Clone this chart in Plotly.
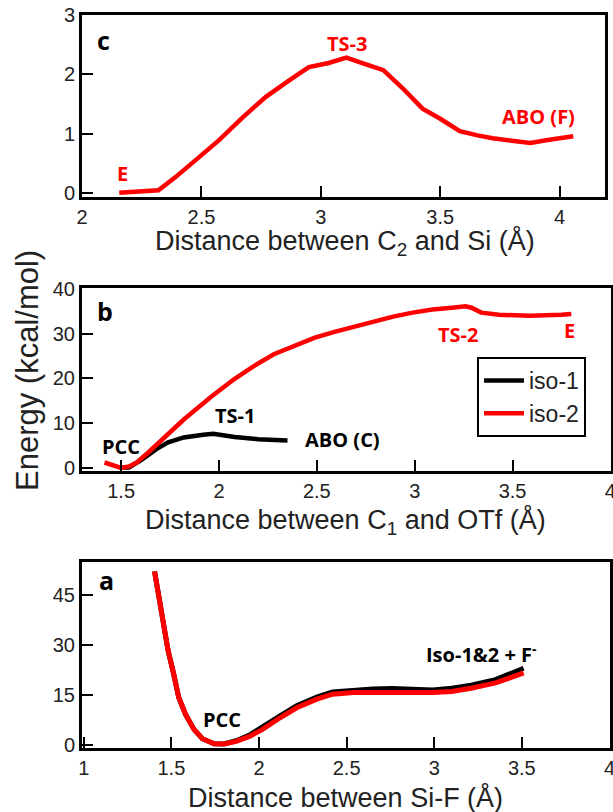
import plotly.graph_objects as go

# ---- Panel c (C2-Si scan, iso-2) ----
c_x = [2.156, 2.32, 2.393, 2.49, 2.574, 2.672, 2.77, 2.869, 2.95, 3.033, 3.107, 3.18, 3.262,
       3.344, 3.426, 3.50, 3.582, 3.656, 3.72, 3.80, 3.877, 3.95, 4.057]
c_y = [0.0, 0.045, 0.27, 0.61, 0.89, 1.27, 1.62, 1.90, 2.12, 2.19, 2.28, 2.18, 2.07,
       1.76, 1.42, 1.25, 1.04, 0.97, 0.92, 0.88, 0.84, 0.89, 0.955]

# ---- Panel b (C1-OTf scan) ----
b_iso1_x = [1.49, 1.54, 1.60, 1.68, 1.74, 1.82, 1.92, 1.97, 2.02, 2.08, 2.20, 2.28, 2.35]
b_iso1_y = [0.0, 0.1, 1.7, 4.2, 5.7, 6.8, 7.4, 7.6, 7.3, 6.9, 6.4, 6.2, 6.1]
b_iso2_x = [1.415, 1.46, 1.50, 1.54, 1.58, 1.64, 1.72, 1.82, 1.90, 1.96, 2.08, 2.18, 2.28, 2.38,
            2.49, 2.59, 2.69, 2.79, 2.89, 2.99, 3.09, 3.19, 3.26, 3.29, 3.34, 3.43, 3.59, 3.75, 3.80]
b_iso2_y = [1.2, 0.45, 0.0, 0.3, 1.2, 3.5, 6.8, 10.8, 13.7, 15.9, 19.9, 22.8, 25.4, 27.2,
            29.1, 30.4, 31.6, 32.7, 33.8, 34.7, 35.4, 35.8, 36.1, 35.8, 34.7, 34.2, 34.0, 34.2, 34.4]

# ---- Panel a (Si-F scan) ----
a_x = [1.404, 1.446, 1.481, 1.513, 1.542, 1.581, 1.629, 1.677, 1.744, 1.80, 1.87, 1.946, 2.02,
       2.12, 2.215, 2.33, 2.42, 2.54, 2.65, 2.76, 2.88, 2.99, 3.10, 3.21, 3.35, 3.51]
a_iso1_y = [52.2, 38.5, 28.4, 21.3, 14.2, 9.1, 4.6, 1.8, 0.3, 0.2, 1.2, 2.9, 5.2,
            8.7, 11.7, 14.3, 15.9, 16.4, 16.8, 16.9, 16.7, 16.5, 17.0, 17.9, 19.6, 23.0]
a_iso2_y = [52.2, 38.5, 28.4, 21.3, 14.2, 9.1, 4.6, 1.8, 0.3, 0.2, 1.0, 2.5, 4.6,
            8.1, 11.1, 13.7, 15.2, 15.7, 15.8, 15.7, 15.7, 15.7, 16.0, 17.0, 18.6, 21.6]

RED = "#ff0000"
LW = 4.5

fig = go.Figure()
fig.add_trace(go.Scatter(x=c_x, y=c_y, mode="lines", line=dict(color=RED, width=LW),
                         xaxis="x", yaxis="y", showlegend=False))
fig.add_trace(go.Scatter(x=b_iso1_x, y=b_iso1_y, mode="lines", line=dict(color="black", width=LW),
                         xaxis="x2", yaxis="y2", name="iso-1"))
fig.add_trace(go.Scatter(x=b_iso2_x, y=b_iso2_y, mode="lines", line=dict(color=RED, width=LW),
                         xaxis="x2", yaxis="y2", name="iso-2"))
fig.add_trace(go.Scatter(x=a_x, y=a_iso1_y, mode="lines", line=dict(color="black", width=5),
                         xaxis="x3", yaxis="y3", showlegend=False))
fig.add_trace(go.Scatter(x=a_x, y=a_iso2_y, mode="lines", line=dict(color=RED, width=5),
                         xaxis="x3", yaxis="y3", showlegend=False))

W, H = 613, 812
def px(v):
    return v / W
def py(v):
    return 1 - v / H

tickfont = dict(family="Liberation Sans, Arial", size=20, color="#222")
common = dict(showline=True, linecolor="black", linewidth=3, mirror=True,
              ticks="inside", ticklen=11, tickwidth=2, tickcolor="black",
              showgrid=False, zeroline=False, tickfont=tickfont, automargin=False,
              ticklabeloverflow="allow")

fig.update_layout(
    width=W, height=H,
    margin=dict(l=0, r=0, t=0, b=0),
    paper_bgcolor="white", plot_bgcolor="white",
    xaxis=dict(domain=[px(82), px(605)], range=[2, 4.19], tickvals=[2, 2.5, 3, 3.5, 4],
               ticktext=["2", "2.5", "3", "3.5", "4"], anchor="y", **common),
    yaxis=dict(domain=[py(197), py(15)], range=[-0.07, 3.0], tickvals=[0, 1, 2, 3], anchor="x", **common),
    xaxis2=dict(domain=[px(82), px(611)], range=[1.3, 4.003], tickvals=[1.5, 2, 2.5, 3, 3.5, 4],
                ticktext=["1.5", "2", "2.5", "3", "3.5", "4"], anchor="y2", **common),
    yaxis2=dict(domain=[py(471), py(288)], range=[-0.7, 40.2], tickvals=[0, 10, 20, 30, 40], anchor="x2", **common),
    xaxis3=dict(domain=[px(82), px(610)], range=[0.99, 4.003], tickvals=[1, 1.5, 2, 2.5, 3, 3.5, 4],
                ticktext=["1", "1.5", "2", "2.5", "3", "3.5", "4"], anchor="y3", **common),
    yaxis3=dict(domain=[py(748), py(562)], range=[-1, 55], tickvals=[0, 15, 30, 45], anchor="x3", **common),
    legend=dict(x=px(477), y=py(357), xanchor="left", yanchor="top",
                bordercolor="black", borderwidth=2, bgcolor="white",
                font=dict(family="Liberation Sans, Arial", size=23, color="#222"),
                itemwidth=40, tracegroupgap=0),
)

def ann(text, x, y, xref, yref, color="black", size=20):
    fig.add_annotation(text=text, x=x, y=y, xref=xref, yref=yref, showarrow=False,
                       xanchor="center", yanchor="middle",
                       font=dict(family="Open Sans", size=size, color=color))

# panel c
ann("<b>c</b>", 2.09, 2.58, "x", "y", size=25)
ann("<b>TS-3</b>", 3.11, 2.52, "x", "y", color=RED)
ann("<b>E</b>", 2.17, 0.33, "x", "y", color=RED)
ann("<b>ABO (F)</b>", 3.91, 1.28, "x", "y", color=RED)
# panel b
ann("<b>b</b>", 1.42, 35, "x2", "y2", size=25)
ann("<b>TS-2</b>", 3.22, 29.7, "x2", "y2", color=RED)
ann("<b>E</b>", 3.79, 30.6, "x2", "y2", color=RED)
ann("<b>TS-1</b>", 2.08, 11.6, "x2", "y2")
ann("<b>ABO (C)</b>", 2.63, 6.4, "x2", "y2")
ann("<b>PCC</b>", 1.5, 4.8, "x2", "y2")
# panel a
ann("<b>a</b>", 1.13, 49.5, "x3", "y3", size=25)
ann("<b>PCC</b>", 1.79, 7.5, "x3", "y3")
ann("<b>Iso-1&2 + F<sup>-</sup></b>", 3.27, 27.5, "x3", "y3")

# axis titles
tfont = dict(family="Liberation Sans, Arial", size=27, color="#222")
def title(text, x, y, **kw):
    fig.add_annotation(text=text, x=px(x), y=py(y), xref="paper", yref="paper", showarrow=False,
                       xanchor="center", yanchor="middle", **kw)

title("Distance between C<sub>2</sub> and Si (Å)", 345, 243, font=tfont)
title("Distance between C<sub>1</sub> and OTf (Å)", 345, 521, font=tfont)
title("Distance between Si-F (Å)", 345, 797, font=tfont)
title("Energy (kcal/mol)", 27, 371, textangle=-90,
      font=dict(family="Liberation Sans, Arial", size=31, color="#222"))

fig.write_html("out.html")
